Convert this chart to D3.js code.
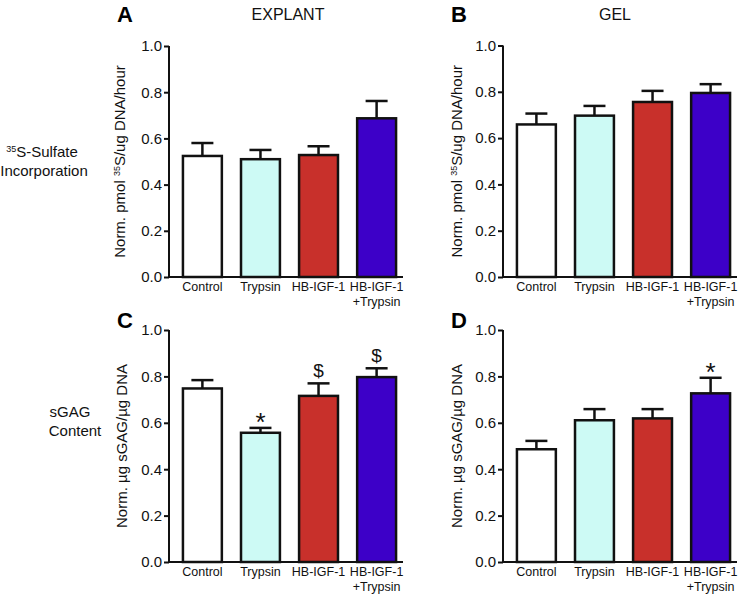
<!DOCTYPE html>
<html><head><meta charset="utf-8">
<script src="https://cdn.jsdelivr.net/npm/d3@7"></script>
<style>body{margin:0;background:#fff}svg{font-family:"Liberation Sans",Arial,sans-serif}</style>
</head><body><svg id="c" width="750" height="594"></svg>
<script>
const categories = [["Control"],["Trypsin"],["HB-IGF-1"],["HB-IGF-1","+Trypsin"]];
const colors = ["#ffffff","#cdfaf5","#c8302b","#3d00c8"];
const yTicks = [0,0.2,0.4,0.6,0.8,1.0];

const sulfateExplant = [0.524, 0.510, 0.528, 0.687];
const sulfateExplantErr = [0.056, 0.040, 0.038, 0.075];
const sulfateGel = [0.659, 0.697, 0.756, 0.795];
const sulfateGelErr = [0.047, 0.042, 0.048, 0.038];
const sgagExplant = [0.748, 0.557, 0.716, 0.797];
const sgagExplantErr = [0.036, 0.021, 0.054, 0.038];
const sgagGel = [0.486, 0.611, 0.619, 0.727];
const sgagGelErr = [0.036, 0.048, 0.040, 0.067];
const annotExplant = ["", "*", "$", "$"];
const annotGel = ["", "", "", "*"];

const svg = d3.select("#c");

const panels = [
  {letter:"A", title:"EXPLANT", vals:sulfateExplant, errs:sulfateExplantErr, ann:null, ax:169, top:46, bot:277, lab:"s35", lx:125, lb:22, tx:288},
  {letter:"B", title:"GEL", vals:sulfateGel, errs:sulfateGelErr, ann:null, ax:503, top:45.5, bot:277, lab:"s35", lx:462, lb:22, tx:615},
  {letter:"C", title:null, vals:sgagExplant, errs:sgagExplantErr, ann:annotExplant, ax:169, top:330, bot:562, lab:"gag", lx:127, lb:328},
  {letter:"D", title:null, vals:sgagGel, errs:sgagGelErr, ann:annotGel, ax:503, top:330, bot:562, lab:"gag", lx:462, lb:328}
];

panels.forEach(p => {
  const g = svg.append("g").attr("transform", `translate(${p.ax},0)`);
  const x = d3.scaleBand().domain(d3.range(4)).range([0, 241]).paddingInner(0.33).paddingOuter(0.24);
  const y = d3.scaleLinear().domain([0,1]).range([p.bot, p.top]);

  g.selectAll("rect.bar").data(p.vals).join("rect")
    .attr("x", (d,i)=>x(i)).attr("width", x.bandwidth())
    .attr("y", d=>y(d)).attr("height", d=>y(0)-y(d))
    .attr("fill", (d,i)=>colors[i]).attr("stroke","#111").attr("stroke-width",2.5);

  const eg = g.selectAll("g.err").data(p.vals).join("g");
  eg.append("line").attr("x1",(d,i)=>x(i)+x.bandwidth()/2).attr("x2",(d,i)=>x(i)+x.bandwidth()/2)
    .attr("y1",d=>y(d)).attr("y2",(d,i)=>y(d+p.errs[i])).attr("stroke","#111").attr("stroke-width",2.5);
  eg.append("line").attr("x1",(d,i)=>x(i)+x.bandwidth()/2-11).attr("x2",(d,i)=>x(i)+x.bandwidth()/2+11)
    .attr("y1",(d,i)=>y(d+p.errs[i])).attr("y2",(d,i)=>y(d+p.errs[i])).attr("stroke","#111").attr("stroke-width",2.5);

  if (p.ann) {
    g.selectAll("text.ann").data(p.ann).join("text")
      .attr("x",(d,i)=>x(i)+x.bandwidth()/2)
      .attr("y",(d,i)=>y(p.vals[i]+p.errs[i]) + (d==="*" ? 3 : -6))
      .attr("text-anchor","middle").attr("font-size", d=> d==="*"?26:19).attr("fill","#111").text(d=>d);
  }

  const ya = g.append("g").call(d3.axisLeft(y).tickValues(yTicks).tickFormat(d3.format(".1f")).tickSize(5).tickPadding(2));
  ya.select(".domain").attr("stroke","#111").attr("stroke-width",2).attr("d", `M0,${p.top}V${p.bot}`);
  ya.selectAll(".tick line").attr("stroke","#111").attr("stroke-width",2);
  ya.selectAll(".tick text").attr("font-size",15).attr("fill","#111").attr("font-family","Liberation Sans, Arial, sans-serif");

  g.append("line").attr("x1",-1).attr("x2",234).attr("y1",y(0)).attr("y2",y(0)).attr("stroke","#111").attr("stroke-width",2);

  const xl = g.selectAll("text.xl").data(categories).join("text")
    .attr("text-anchor","middle").attr("font-size",12.5).attr("fill","#111")
    .attr("x",(d,i)=>x(i)+x.bandwidth()/2).attr("y", y(0)+14);
  xl.selectAll("tspan").data(d=>d).join("tspan")
    .attr("x", function(){return this.parentNode.getAttribute("x");})
    .attr("dy",(d,j)=> j===0?0:14.5).text(d=>d);

  const yl = svg.append("text").attr("transform",`translate(${p.lx},${(p.top+p.bot)/2}) rotate(-90)`)
    .attr("text-anchor","middle").attr("font-size",15).attr("fill","#111");
  if (p.lab==="s35") {
    yl.append("tspan").text("Norm. pmol ");
    yl.append("tspan").attr("font-size",9).attr("dy",-5).text("35");
    yl.append("tspan").attr("dy",5).text("S/ug DNA/hour");
  } else {
    yl.text("Norm. µg sGAG/µg DNA");
  }

  svg.append("text").attr("x", p.ax-52).attr("y", p.lb).attr("font-size",22).attr("font-weight","bold").text(p.letter);
  if (p.title) svg.append("text").attr("x",p.tx).attr("y",20).attr("text-anchor","middle").attr("font-size",16).attr("fill","#111").text(p.title);
});

const r1 = svg.append("text").attr("x",42).attr("y",157).attr("text-anchor","middle").attr("font-size",15).attr("fill","#111");
r1.append("tspan").attr("font-size",9).attr("dy",-5).text("35");
r1.append("tspan").attr("dy",5).text("S-Sulfate");
svg.append("text").attr("x",44).attr("y",176).attr("text-anchor","middle").attr("font-size",15).attr("fill","#111").text("Incorporation");
svg.append("text").attr("x",70).attr("y",417).attr("text-anchor","middle").attr("font-size",15).attr("fill","#111").text("sGAG");
svg.append("text").attr("x",75).attr("y",436).attr("text-anchor","middle").attr("font-size",15).attr("fill","#111").text("Content");
</script></body></html>
